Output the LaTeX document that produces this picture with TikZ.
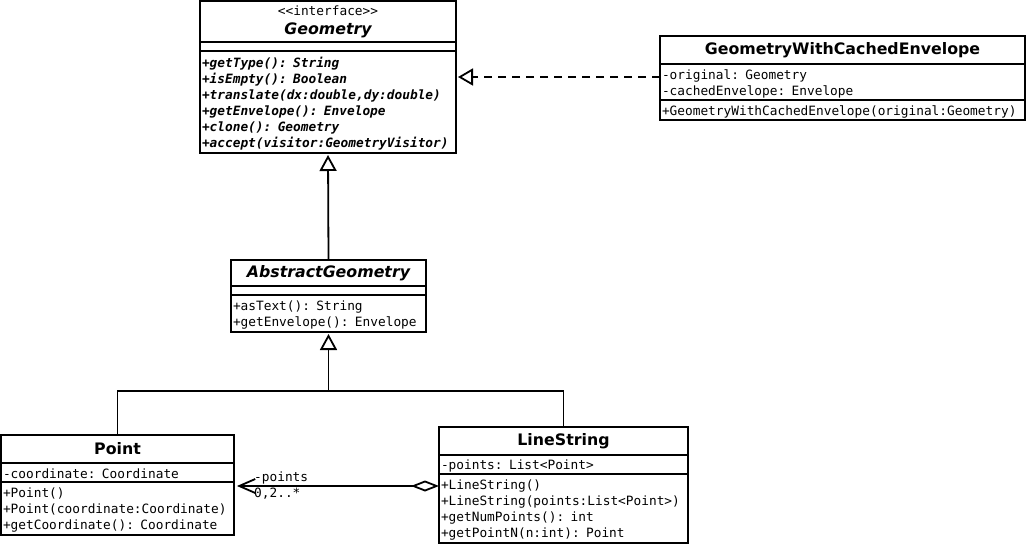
\documentclass[tikz,border=0pt]{standalone}
\usepackage{fontspec}
\setmainfont{DejaVu Sans}
\newfontfamily\umlmono{DejaVu Sans Mono}
\usetikzlibrary{arrows.meta,positioning}

\newcommand{\memberfont}{\umlmono\mdseries\upshape\fontsize{12.8}{16}\selectfont}
\newcommand{\classfont}{\bfseries\fontsize{15.8}{18}\selectfont}

\begin{document}
\begin{tikzpicture}[x=1pt,y=-1pt,
	compart/.style={draw, line width=1.8pt, anchor=north west, outer sep=0pt, inner xsep=2pt, inner ysep=0pt, text width=#1, align=left, font=\memberfont},
	members/.style={compart=#1, execute at begin node={\rule{0pt}{13pt}}},
	classname/.style={align=center, font=\classfont},
	realize/.style={line width=1.8pt, dash pattern=on 8pt off 6pt, shorten >=2pt, -{Triangle[open,length=15pt,width=17pt]}},
	generalize/.style={line width=1.8pt, shorten >=2pt, -{Triangle[open,length=16pt,width=17pt]}},
	connector/.style={line width=1.8pt},
	aggregate/.style={line width=1.8pt, shorten >=3pt, {Diamond[open,length=28pt,width=11pt]}-{Straight Barb[length=16pt,width=14pt]}}]
	%\draw[help lines] (0,0) grid[step=50pt] (1027,545);
	\useasboundingbox (0,0) rectangle (1027,545);
	
	% interface
	\node[compart=252, classname, minimum height=41pt] (geomTitle) at (200,1) {{\memberfont <<interface>>}\\[1pt]{\itshape Geometry}};
	\node[compart=252, minimum height=9pt] (geomAttr) at (geomTitle.south west) {};
	\node[members=252, minimum height=102pt] (geomOps) at (geomAttr.south west) {\bfseries\itshape
		+getType(): String\\
		+isEmpty(): Boolean\\
		+translate(dx:double,dy:double)\\
		+getEnvelope(): Envelope\\
		+clone(): Geometry\\
		+accept(visitor:GeometryVisitor)};
	
	% decorator
	\node[compart=361, classname, minimum height=28pt] (gwceTitle) at (660,36) {GeometryWithCachedEnvelope};
	\node[members=361, minimum height=36pt] (gwceAttr) at (gwceTitle.south west) {-original: Geometry\\-cachedEnvelope: Envelope};
	\node[members=361, minimum height=20pt] (gwceOps) at (gwceAttr.south west) {+GeometryWithCachedEnvelope(original:Geometry)};
	
	% abstract class
	\node[compart=191, classname, minimum height=26pt] (absTitle) at (231,260) {\itshape AbstractGeometry};
	\node[compart=191, minimum height=9pt] (absAttr) at (absTitle.south west) {};
	\node[members=191, minimum height=37pt] (absOps) at (absAttr.south west) {+asText(): String\\+getEnvelope(): Envelope};
	
	% concrete classes
	\node[compart=229, classname, minimum height=28pt] (pointTitle) at (1,435) {Point};
	\node[members=229, minimum height=19pt] (pointAttr) at (pointTitle.south west) {-coordinate: Coordinate};
	\node[members=229, minimum height=53pt] (pointOps) at (pointAttr.south west) {+Point()\\+Point(coordinate:Coordinate)\\+getCoordinate(): Coordinate};
	
	\node[compart=245, classname, minimum height=28pt] (lsTitle) at (439,427) {LineString};
	\node[members=245, minimum height=19pt] (lsAttr) at (lsTitle.south west) {-points: List<Point>};
	\node[members=245, minimum height=69pt] (lsOps) at (lsAttr.south west) {+LineString()\\+LineString(points:List<Point>)\\+getNumPoints(): int\\+getPointN(n:int): Point};
	
	% relations
	\draw[realize] ([yshift=5pt]gwceAttr.west) -- ([yshift=5pt]gwceAttr.west -| geomOps.east);
	\draw[generalize] (absTitle.north) -- (geomOps.south);
	
	\coordinate (fork) at (328.5,391);
	\draw[generalize] (pointTitle.north) |- (fork) -- (absOps.south);
	\draw[connector] (lsTitle.north) |- (fork);
	
	\coordinate (aggStart) at ([yshift=-12pt]lsOps.north west);
	\coordinate (aggEnd) at (aggStart -| pointOps.east);
	\draw[aggregate] (aggStart) -- (aggEnd);
	\node[font=\memberfont, anchor=base west, inner sep=0pt] (roleName) at ([xshift=20pt,yshift=4.5pt]aggEnd) {-points};
	\node[font=\memberfont, anchor=base west, inner sep=0pt] (roleMult) at ([xshift=20pt,yshift=-11.5pt]aggEnd) {0,2..*};
\end{tikzpicture}
\end{document}
